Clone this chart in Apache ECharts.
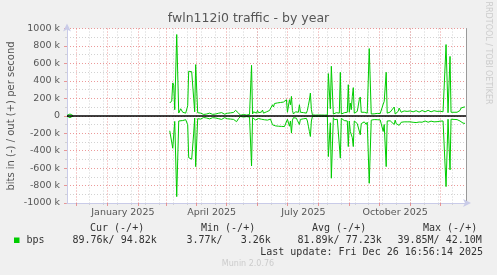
<!DOCTYPE html>
<html><head><meta charset="utf-8">
<script src="https://cdn.jsdelivr.net/npm/echarts@6/dist/echarts.min.js"></script>
<style>html,body{margin:0;padding:0;background:#f0f0f0}#c{width:497px;height:275px}</style>
</head><body><div id="c"></div>
<script>
// x = days since 1 Jan 2025; values in k bits/s
const days = [-40,-39,-38,-37,-36,-35,-34,10,
 63,65,66,67,68,70,72,74,76,78,79,81,82,84,85,86,87,88,89,91,
 92,93,94,95,96,97,98,99,100,101,102,103,104,105,106,107,108,109,110,111,112,113,114,115,116,117,118,119,120,121,122,123,124,125,126,127,128,129,130,131,132,133,134,135,136,137,138,139,140,141,142,143,144,
 145,146,147,148,149,150,151,152,153,154,155,156,157,158,159,160,161,162,163,164,165,
 166,167,168,169,170,171,172,173,174,175,176,177,178,179,180,181,182,183,184,185,186,187,188,189,190,191,192,193,194,195,196,197,198,199,200,201,202,203,204,205,206,
 207,208,209,210,211,212,213,214,215,216,217,218,219,220,221,222,224,225,227,
 228,229,230,231,232,233,234,235,236,237,238,239,240,241,242,243,244,245,246,247,248,249,250,251,252,253,254,255,256,257,258,259,260,261,262,263,265,
 266,267,268,269,270,271,272,273,274,275,276,277,278,280,281,282,283,284,285,286,288,289,290,291,292,293,294,295,296,297,298,299,300,301,302,303,
 304,305,306,307,308,309,310,311,312,313,314,315,316,317,318,319,320,321,322,323,324,325,326,327,328,329,330,331,332,333,334,335,336,337,338,339,
 340,342,344,345,346,347,348,349,350,351,352,353,354,355,356,357,358,359];
const outK = [4,15,22,20,14,6,2,null,
 146,170,376,350,69,931,31,80,40,60,30,115,510,520,505,515,200,45,586,35,
 25,18,30,20,28,15,26,32,20,27,18,30,22,28,16,24,30,20,26,18,29,22,32,36,20,27,18,31,22,29,20,26,33,40,52,38,45,62,77,45,30,15,6,12,8,14,9,16,8,12,10,14,10,
 578,20,45,25,52,30,60,35,55,28,42,65,30,50,25,45,56,35,60,40,52,
 126,100,140,142,145,147,150,150,152,154,155,157,158,150,184,40,22,184,126,222,60,20,32,45,25,58,40,126,40,30,20,36,50,40,30,62,120,180,260,70,10,
 8,9,7,8,10,8,7,9,8,8,10,7,8,9,8,483,80,567,20,
 30,25,35,22,28,30,498,20,30,25,35,28,30,40,356,40,146,70,222,322,30,45,40,50,45,184,215,40,35,30,40,25,35,30,28,770,20,
 25,28,22,26,24,27,23,26,25,28,30,134,164,498,30,40,38,42,40,45,100,20,40,42,50,88,69,40,50,62,55,45,60,50,65,40,
 55,48,60,45,52,40,58,45,50,42,55,48,60,42,50,45,58,52,62,48,56,45,60,52,58,46,62,50,55,48,52,44,50,45,48,42,
 816,35,680,40,38,36,40,38,35,40,38,45,60,88,95,96,100,100];
const inK = [-4,-14,-20,-22,-16,-8,-3,null,
 -172,-161,-372,-365,-65,-927,-60,-40,-55,-35,-45,-103,-480,-470,-498,-490,-200,-26,-583,-34,
 -35,-28,-38,-25,-33,-20,-30,-38,-26,-30,-24,-36,-28,-32,-22,-30,-36,-25,-32,-22,-34,-27,-38,-42,-26,-33,-22,-36,-28,-35,-25,-31,-38,-45,-55,-42,-50,-60,-68,-48,-32,-18,-8,-14,-10,-15,-12,-18,-10,-14,-12,-15,-11,
 -575,-22,-40,-30,-48,-28,-50,-32,-45,-26,-40,-55,-30,-46,-28,-42,-50,-34,-55,-38,-50,
 -103,-90,-115,-116,-118,-118,-120,-121,-122,-122,-123,-123,-124,-123,-130,-40,-25,-120,-60,-199,-50,-22,-30,-42,-28,-55,-40,-100,-42,-32,-22,-35,-48,-38,-30,-60,-120,-180,-238,-60,-10,
 -8,-9,-7,-8,-10,-8,-7,-9,-8,-8,-10,-7,-8,-9,-8,-468,-80,-716,-22,
 -45,-38,-50,-40,-45,-48,-486,-30,-50,-45,-55,-48,-52,-60,-353,-60,-180,-170,-250,-353,-60,-80,-70,-90,-75,-100,-218,-90,-75,-95,-70,-85,-100,-75,-65,-774,-50,
 -46,-48,-44,-46,-50,-45,-47,-45,-48,-50,-52,-180,-100,-583,-60,-55,-60,-58,-62,-60,-100,-50,-90,-105,-80,-110,-95,-75,-85,-90,-70,-75,-85,-70,-90,-65,
 -70,-72,-68,-75,-70,-62,-78,-70,-66,-72,-68,-64,-74,-62,-70,-60,-72,-68,-74,-64,-70,-62,-72,-66,-70,-64,-74,-68,-60,-66,-62,-58,-64,-60,-62,-58,
 -812,-40,-620,-40,-42,-40,-42,-40,-42,-44,-40,-48,-60,-72,-80,-84,-86,-88];
const monthStarts = [-31,0,31,59,90,120,151,181,212,243,273,304,334];
const minorGridDays = [-17.5,-3.5,10.5,24.5,38.5,52.5,66.5,80.5,94.5,108.5,122.5,136.5,150.5,164.5,178.5,192.5,206.5,220.5,234.5,248.5,262.5,276.5,290.5,304.5,318.5,332.5,346.5];
const xLabelDays = [16,105,197,289];
const xLabels = ['January 2025','April 2025','July 2025','October 2025'];
const yTicks = [-1000,-800,-600,-400,-200,0,200,400,600,800,1000];
const yTickLabels = ['-1000 k','-800 k','-600 k','-400 k','-200 k','0','200 k','400 k','600 k','800 k','1000 k'];

const toPairs = (vals) => days.map((d, i) => [d, vals[i] === null ? '-' : vals[i]]);
const RED = 'rgba(230,120,120,0.75)', GRAY = '#d2d2d2', AXIS = '#c9cbe8';
const F = 'DejaVu Sans', M = 'DejaVu Sans Mono';
const chart = echarts.init(document.getElementById('c'), null, {renderer: 'canvas'});
const mono = (x, y, t, extra) => Object.assign({type: 'text', x, y, style: {text: t, font: '10px "' + M + '"', fill: '#333', textVerticalAlign: 'middle'}}, extra || {});
chart.setOption({
  backgroundColor: '#f0f0f0',
  animation: false,
  grid: {left: 67, right: 31, top: 28.5, bottom: 72, show: true, backgroundColor: '#ffffff', borderWidth: 0},
  xAxis: [
    {type: 'value', min: -40, max: 360, position: 'bottom', z: 2,
     axisLine: {show: true, onZero: false, lineStyle: {color: AXIS, width: 1}, symbol: ['none', 'arrow'], symbolSize: [6, 8], symbolOffset: [0, 5]},
     axisTick: {show: true, customValues: monthStarts, length: 3, lineStyle: {color: RED}},
     splitLine: {show: true, lineStyle: {color: RED, type: [1, 2], width: 1}},
     axisLabel: {customValues: xLabelDays, formatter: (v) => xLabels[xLabelDays.indexOf(v)] || '', color: '#555', fontFamily: F, fontSize: 9.5, margin: 5}},
    {type: 'value', min: -40, max: 360, position: 'bottom', z: 1,
     axisLine: {show: false, onZero: false},
     axisTick: {show: true, customValues: minorGridDays, length: 2, lineStyle: {color: GRAY}},
     splitLine: {show: true, lineStyle: {color: GRAY, type: [1, 2], width: 1}},
     axisLabel: {show: false}}
  ],
  yAxis: [
    {type: 'value', min: -1000, max: 1000, interval: 200, position: 'left',
     axisLine: {show: true, onZero: false, lineStyle: {color: AXIS}, symbol: ['none', 'arrow'], symbolSize: [6, 8], symbolOffset: [0, 5]},
     axisTick: {show: true, length: 3, lineStyle: {color: RED}},
     minorTick: {show: true, splitNumber: 2, length: 2, lineStyle: {color: GRAY}},
     splitLine: {show: true, lineStyle: {color: RED, type: [1, 2]}},
     minorSplitLine: {show: true, lineStyle: {color: GRAY, type: [1, 2]}},
     axisLabel: {formatter: (v) => yTickLabels[yTicks.indexOf(v)], color: '#555', fontFamily: F, fontSize: 9.5, margin: 7}},
    {type: 'value', min: -1000, max: 1000, position: 'right',
     axisLine: {show: true, onZero: false, lineStyle: {color: '#999', width: 1}}, axisTick: {show: false}, axisLabel: {show: false}, splitLine: {show: false}}
  ],
  series: [
    {type: 'line', name: 'out', xAxisIndex: 0, yAxisIndex: 0, data: toPairs(outK), showSymbol: false, connectNulls: false,
     lineStyle: {color: '#00cc00', width: 1}, itemStyle: {color: '#00cc00'}, z: 3,
     markLine: {silent: true, symbol: ['none', 'none'], label: {show: false}, lineStyle: {color: '#000', width: 1.5, type: 'solid'}, data: [{yAxis: 0}], z: 5}},
    {type: 'line', name: 'in', xAxisIndex: 0, yAxisIndex: 0, data: toPairs(inK), showSymbol: false, connectNulls: false,
     lineStyle: {color: '#00cc00', width: 1}, itemStyle: {color: '#00cc00'}, z: 3}
  ],
  graphic: [
    {type: 'text', x: 248.5, y: 19, style: {text: 'fwln112i0 traffic - by year', font: '12.5px "' + F + '"', fill: '#555', textAlign: 'center', textVerticalAlign: 'middle'}},
    {type: 'text', x: 11, y: 116, rotation: Math.PI / 2, style: {text: 'bits in (-) / out (+) per second', font: '10px "' + F + '"', fill: '#555', textAlign: 'center', textVerticalAlign: 'middle'}},
    {type: 'text', x: 488, y: 53, rotation: -Math.PI / 2, style: {text: 'RRDTOOL / TOBI OETIKER', font: '8px "' + F + '"', fill: '#cccccc', textAlign: 'center', textVerticalAlign: 'middle'}},
    mono(90, 228, 'Cur (-/+)'), mono(201, 228, 'Min (-/+)'), mono(312, 228, 'Avg (-/+)'), mono(423, 228, 'Max (-/+)'),
    {type: 'rect', shape: {x: 14, y: 237.5, width: 5.5, height: 5.5}, style: {fill: '#00cc00'}},
    mono(26.5, 240, 'bps'), mono(72.5, 240, '89.76k/ 94.82k'), mono(186.5, 240, '3.77k/   3.26k'), mono(297.5, 240, '81.89k/ 77.23k'), mono(397.5, 240, '39.85M/ 42.10M'),
    {type: 'text', x: 483, y: 252, style: {text: 'Last update: Fri Dec 26 16:56:14 2025', font: '10px "' + M + '"', fill: '#333', textAlign: 'right', textVerticalAlign: 'middle'}},
    {type: 'text', x: 248, y: 264, style: {text: 'Munin 2.0.76', font: '8px "' + F + '"', fill: '#cccccc', textAlign: 'center', textVerticalAlign: 'middle'}}
  ]
});
</script></body></html>
